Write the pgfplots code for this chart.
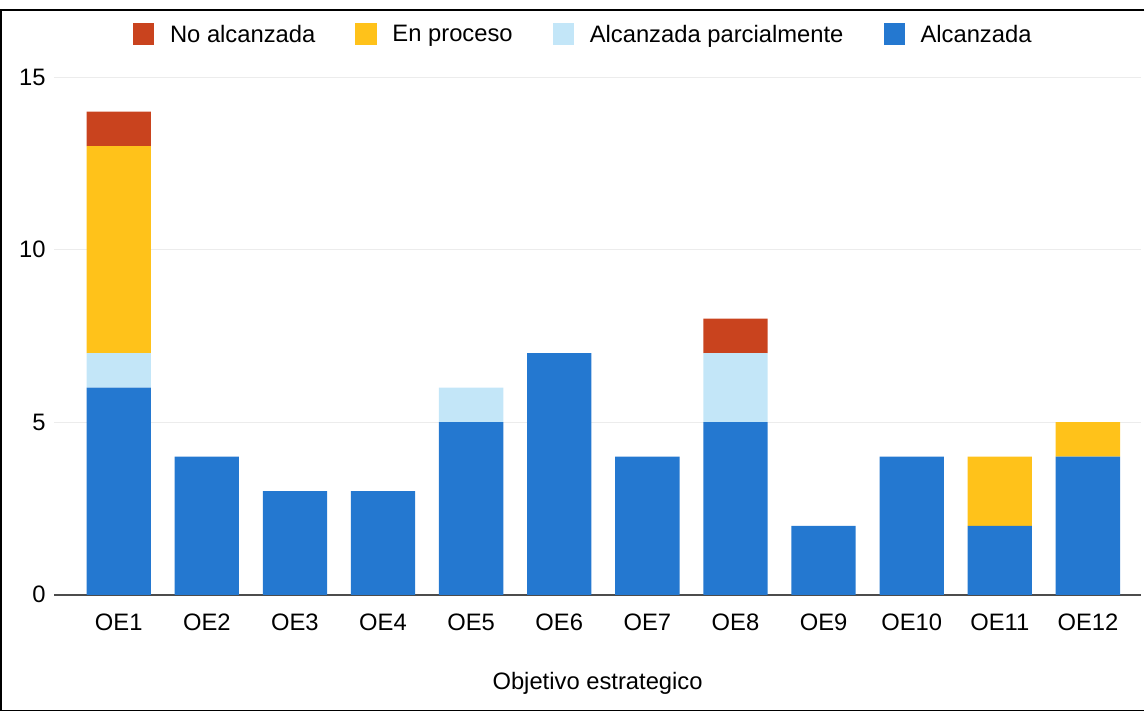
\documentclass[border=0pt]{standalone}
\usepackage{pgfplots}
\pgfplotsset{compat=1.18}
\usetikzlibrary{calc}
\usepackage{fontspec}
\setmainfont{Liberation Sans}
\definecolor{cNo}{HTML}{C9431E}
\definecolor{cProc}{HTML}{FFC21A}
\definecolor{cPar}{HTML}{C3E6F8}
\definecolor{cAlc}{HTML}{2478D0}
\begin{document}
\begin{tikzpicture}
\begin{axis}[
  name=ax,
  width=15.26cm, height=7.27cm, scale only axis,
  ybar stacked, bar width=0.73,
  xmin=-0.73, xmax=11.6, ymin=0, ymax=15,
  xtick={0,...,11},
  xticklabels={OE1,OE2,OE3,OE4,OE5,OE6,OE7,OE8,OE9,OE10,OE11,OE12},
  ytick={0,5,10,15},
  ymajorgrids, grid style={gray!15},
  axis y line*=left, y axis line style={draw=none},
  axis x line*=bottom, x axis line style={draw=black!70, line width=0.8pt},
  tick style={draw=none},
  ticklabel style={font=\fontsize{9.5}{11}\selectfont},
  xticklabel style={yshift=-4pt},
  /pgf/number format/assume math mode=true,
  xlabel={Objetivo estrategico},
  xlabel style={font=\fontsize{9.5}{11}\selectfont, yshift=-10pt},
  reverse legend,
  legend columns=4,
  legend style={draw=none, fill=none, at={(0.065,1.04)}, anchor=south west,
    font=\fontsize{9.5}{11}\selectfont,
    /tikz/every even column/.append style={column sep=14pt}},
  legend image code/.code={\fill[#1] (0cm,-0.13cm) rectangle (0.3cm,0.17cm); \path (0.45cm,0);},
  legend cell align=left,
]
\addplot[fill=cAlc, draw=none] coordinates {(0,6) (1,4) (2,3) (3,3) (4,5) (5,7) (6,4) (7,5) (8,2) (9,4) (10,2) (11,4)};
\addplot[fill=cPar, draw=none] coordinates {(0,1) (1,0) (2,0) (3,0) (4,1) (5,0) (6,0) (7,2) (8,0) (9,0) (10,0) (11,0)};
\addplot[fill=cProc, draw=none] coordinates {(0,6) (1,0) (2,0) (3,0) (4,0) (5,0) (6,0) (7,0) (8,0) (9,0) (10,2) (11,1)};
\addplot[fill=cNo, draw=none] coordinates {(0,1) (1,0) (2,0) (3,0) (4,0) (5,0) (6,0) (7,1) (8,0) (9,0) (10,0) (11,0)};
\legend{Alcanzada, Alcanzada parcialmente, En proceso, No alcanzada}
\end{axis}
\path (current bounding box.south west) coordinate (SW) (current bounding box.north east) coordinate (NE);
\coordinate (TL) at ($(SW|-NE)+(-4pt,2pt)$);
\coordinate (BL) at ($(SW)+(-4pt,-3pt)$);
\coordinate (TR) at ($(NE)+(1pt,2pt)$);
\coordinate (BR) at ($(NE|-SW)+(1pt,-3pt)$);
\draw[black, line width=0.6pt] (TR) -- (TL) -- (BL) -- (BR);
\path[draw=none] ($(TL)+(0,4pt)$) rectangle ($(BR)+(0,-2pt)$);
\end{tikzpicture}
\end{document}
